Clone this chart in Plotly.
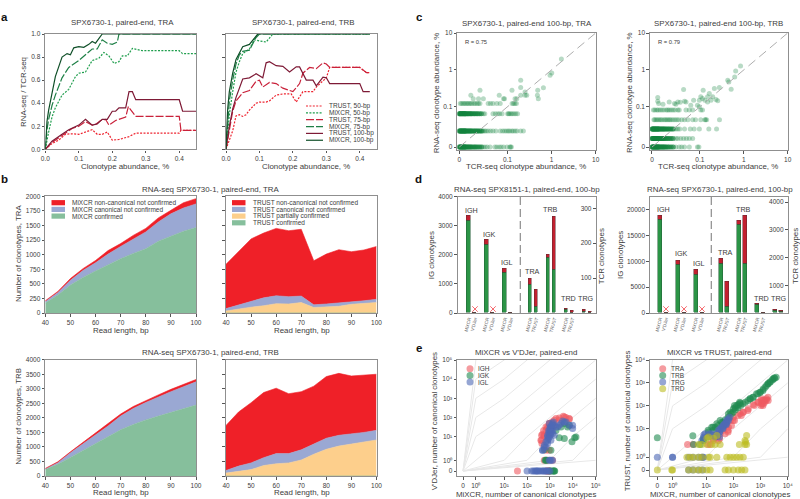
import math

import plotly.graph_objects as go

# Panel a: RNA-seq / TCR-seq against clonotype abundance
a_tra_trust50_x = [0, .02, .04, .06, .08, .10, .13, .14, .155, .17, .185, .20, .22, .25, .27, .40, .405, .45]
a_tra_trust50_y = [0, .05, .08, .13, .135, .13, .16, .17, .13, .13, .15, .08, .085, .11, .14, .14, .165, .165]
a_tra_mixcr50_x = [0, .005, .01, .02, .03, .05, .07, .09, .10, .12, .14, .16, .175, .19, .205, .22, .23, .245, .26, .29, .40, .41, .45]
a_tra_mixcr50_y = [0, .08, .15, .28, .36, .47, .52, .63, .66, .67, .77, .79, .84, .81, .745, .76, .81, .81, .875, .855, .855, .83, .83]
a_tra_trust75_x = [0, .02, .05, .08, .10, .12, .14, .15, .165, .18, .19, .21, .24, .248, .27, .40, .405, .45]
a_tra_trust75_y = [0, .06, .12, .18, .20, .24, .21, .215, .25, .26, .21, .25, .28, .37, .285, .285, .165, .165]
a_tra_mixcr75_x = [0, .005, .01, .02, .03, .05, .07, .10, .12, .14, .155, .17, .185, .20, .215, .22, .45]
a_tra_mixcr75_y = [0, .17, .26, .38, .47, .62, .71, .77, .82, .87, .87, .95, .92, .91, .93, 1, 1]
a_tra_trust100_x = [0, .02, .05, .07, .10, .12, .14, .155, .17, .185, .20, .21, .22, .24, .25, .26, .27, .40, .41, .45]
a_tra_trust100_y = [0, .07, .13, .17, .21, .26, .21, .22, .26, .26, .33, .33, .36, .36, .50, .50, .43, .43, .33, .33]
a_tra_mixcr100_x = [0, .005, .01, .02, .03, .05, .065, .075, .085, .10, .115, .13, .14, .15, .17, .45]
a_tra_mixcr100_y = [0, .24, .34, .50, .63, .80, .83, .82, .88, .89, .885, .91, .935, .92, 1, 1]

a_trb_trust50_x = [0, .01, .02, .03, .04, .05, .06, .07, .09, .10, .12, .13, .15, .17, .195, .21, .23, .26, .27, .30, .31, .40, .42, .43]
a_trb_trust50_y = [0, .08, .16, .29, .30, .285, .30, .34, .40, .41, .41, .42, .47, .48, .48, .41, .50, .50, .54, .62, .71, .71, .665, .665]
a_trb_mixcr50_x = [0, .005, .01, .02, .03, .04, .05, .07, .085, .10, .12, .14, .43]
a_trb_mixcr50_y = [0, .15, .30, .50, .67, .76, .83, .87, .95, .94, .93, 1, 1]
a_trb_trust75_x = [0, .01, .02, .03, .05, .07, .09, .10, .11, .13, .15, .17, .20, .22, .23, .25, .27, .29, .30, .31, .40, .42, .43]
a_trb_trust75_y = [0, .18, .33, .42, .49, .51, .59, .60, .54, .58, .57, .53, .50, .57, .66, .71, .70, .75, .74, .71, .71, .665, .665]
a_trb_mixcr75_x = [0, .005, .01, .02, .03, .04, .05, .07, .09, .10, .43]
a_trb_mixcr75_y = [0, .25, .42, .60, .74, .82, .85, .86, .97, 1, 1]
a_trb_trust100_x = [0, .01, .02, .03, .05, .07, .09, .11, .12, .13, .15, .17, .19, .21, .22, .23, .24, .26, .27, .29, .30, .31, .40, .41, .43]
a_trb_trust100_y = [0, .20, .35, .45, .61, .62, .655, .62, .75, .76, .725, .72, .67, .715, .715, .65, .60, .60, .55, .625, .62, .57, .57, .50, .50]
a_trb_mixcr100_x = [0, .005, .01, .02, .03, .05, .07, .085, .095, .43]
a_trb_mixcr100_y = [0, .35, .50, .66, .78, .89, .91, .96, 1, 1]

a_labels = ["TRUST, 50-bp", "MiXCR, 50-bp", "TRUST, 75-bp", "MiXCR, 75-bp", "TRUST, 100-bp", "MiXCR, 100-bp"]
a_colors = ["#ee2430", "#1f9e4d", "#c9213a", "#1f8047", "#7e1a36", "#0f4f28"]
a_dashes = ["2px,1.4px", "2px,1.4px", "8px,2px", "8px,2px", "solid", "solid"]

# Panel b: stacked clonotype counts per read length
read_length = [40, 45, 50, 55, 60, 65, 70, 75, 80, 85, 90, 95, 100]
b_tra_mixcr_confirmed = [170, 310, 480, 610, 720, 830, 930, 1020, 1100, 1230, 1320, 1400, 1465]
b_tra_mixcr_canonical = [25, 40, 80, 120, 140, 180, 210, 250, 290, 330, 380, 400, 405]
b_tra_mixcr_noncanon = [15, 20, 30, 30, 40, 60, 50, 60, 60, 70, 60, 90, 90]
b_tra_trust_confirmed = [1, 1, 1, 1, 1, 1, 1, 1, 1, 1, 1, 1, 1]
b_tra_trust_partial = [34, 69, 99, 124, 159, 154, 179, 94, 99, 114, 149, 164, 179]
b_tra_trust_canonical = [40, 65, 105, 135, 135, 125, 110, 45, 55, 55, 45, 45, 55]
b_tra_trust_noncanon = [760, 915, 1065, 1110, 1155, 1130, 1145, 755, 855, 915, 855, 870, 905]
b_trb_mixcr_confirmed = [230, 400, 640, 880, 1110, 1350, 1590, 1770, 1930, 2060, 2190, 2310, 2440]
b_trb_mixcr_canonical = [15, 60, 160, 220, 290, 370, 470, 550, 600, 660, 710, 760, 800]
b_trb_mixcr_noncanon = [15, 30, 30, 50, 70, 60, 70, 70, 70, 70, 80, 80, 80]
b_trb_trust_confirmed = [1, 1, 1, 1, 1, 1, 1, 1, 1, 1, 1, 1, 1]
b_trb_trust_partial = [99, 169, 219, 359, 419, 449, 549, 749, 919, 1029, 1099, 1169, 1239]
b_trb_trust_canonical = [90, 170, 230, 270, 350, 320, 350, 360, 380, 370, 340, 330, 330]
b_trb_trust_noncanon = [1550, 1860, 2070, 2240, 2250, 2060, 2000, 1980, 2120, 2130, 2000, 1960, 1930]

# Panel c: RNA-seq against TCR-seq abundance
c_tra_levels = [0, .04, .083, .123]
c_tra_rows = [
    [0, .003, .006, .008, .011, .014, .017, .019, .022, .025, .028, .031, .033, .036, .040, .043, .047, .050, .054, .058, .064, .074, .078, .083, .087, .092, .099, .113, .118, .123],
    [0, .002, .004, .006, .008, .010, .012, .014, .016, .018, .020, .022, .024, .026, .028, .030, .032, .034, .036, .038, .040, .042, .044, .046, .048, .050, .053, .056, .060, .065, .070, .076, .085, .09, .094, .098, .104, .112, .125, .135, .15, .165, .2, .23],
    [0, .002, .004, .007, .009, .011, .013, .016, .018, .02, .023, .025, .027, .03, .032, .035, .038, .041, .045, .05, .053, .07, .075, .08, .084, .089, .101, .106, .112, .121, .13, .142, .155, .17],
    [.002, .005, .008, .011, .014, .017, .02, .023, .026, .03, .033, .037, .04, .043, .06, .065, .07, .078, .085, .128, .137, .148, .16],
]
c_tra_dense = [0, .001, .002, .003, .004, .005, .006, .007, .008, .009, .01, .011, .012, .013, .014, .016, .018, .02, .022, .024, .026, .029, .032, .035, .038, .042, .046]
c_tra_top_x = [.024, .043, .029, .040, .05, .083, .092, .094, .127, .149, .163, .2, .2, .2, .251, .251, .274, .478, .486, .654, .502, .925, 1.01, 1.67]
c_tra_top_y = [.207, .282, .165, .165, .165, .207, .165, .165, .282, .165, .165, .525, .333, .207, .254, .207, .207, .207, .282, .326, .165, .72, .83, 1.98]
c_trb_levels = [0, .0215, .0446, .068, .092]
c_trb_rows = [
    [0, .002, .004, .006, .008, .010, .012, .014, .016, .018, .020, .022, .024, .026, .028, .030, .033, .036, .040, .045, .050, .057, .062, .068, .078, .095, .098],
    [0, .002, .004, .006, .008, .010, .012, .014, .016, .018, .020, .022, .024, .026, .028, .031, .034, .037, .040, .044, .050, .054, .06, .066, .072, .078, .085],
    [0, .002, .004, .006, .008, .010, .012, .014, .016, .018, .020, .022, .024, .026, .028, .030, .032, .034, .036, .038, .040, .043, .046, .050, .054, .058, .068, .08, .088, .099, .16, .24],
    [.004, .006, .009, .012, .015, .018, .021, .025, .028, .031, .034, .037, .040, .044, .048, .052, .056, .062, .068, .075, .085, .091, .105, .13, .135, .143, .28],
    [.003, .006, .010, .013, .017, .021, .025, .030, .033, .036, .040, .044, .048, .054, .057, .071, .078, .085, .105, .115],
]
c_trb_dense = [0, .001, .002, .003, .004, .005, .006, .007, .008, .009, .01, .011, .012, .013, .014, .015, .017, .019, .021, .023, .025, .027, .03, .033, .036, .04, .044]
c_trb_top_x = [.012, .012, .014, .023, .036, .047, .05, .054, .059, .068, .071, .066, .081, .087, .095, .099, .105, .119, .099, .150, .164, .179, .196, .214, .278, .432, .456, .516, .62, .654, .845, .115, .13, .15, .233, .255]
c_trb_top_y = [.179, .142, .123, .118, .136, .123, .118, .136, .134, .142, .136, .294, .11, .151, .11, .151, .186, .282, .1, .186, .229, .151, .186, .313, .333, .525, .474, .3, .646, .94, 1.28, .168, .151, .136, .158, .145]

# Panel d: clonotype counts per locus, IG on the left axis and TCR on the right
d_ig_pos = [0, 1, 3, 4, 6, 7]
d_tcr_pos = [10.2, 11.2, 13.2, 14.2, 16.2, 17.2, 19.2, 20.2]
d_ig_ticks = ["MiXCR", "V'DJer", "MiXCR", "V'DJer", "MiXCR", "V'DJer"]
d_tcr_ticks = ["MiXCR", "TRUST", "MiXCR", "TRUST", "MiXCR", "TRUST", "MiXCR", "TRUST"]
d1_ig_confirmed = [3180, 0, 2350, 0, 1390, 15]
d1_ig_other = [170, 0, 170, 0, 140, 5]
d1_tcr_confirmed = [82, 18, 159, 125, 10, 1, 5, 1]
d1_tcr_other = [17, 48, 9, 152, 3, 5, 4, 4]
d1_cross_pos = [1, 4]
d2_ig_confirmed = [18000, 0, 9400, 0, 7500, 0]
d2_ig_other = [800, 0, 800, 0, 800, 0]
d2_tcr_confirmed = [1769, 229, 3177, 1781, 300, 5, 70, 40]
d2_tcr_other = [205, 902, 156, 1721, 25, 20, 38, 50]
d2_cross_pos = [1, 4, 7]

# Panel e: canonical clonotypes per sample
e1_igh_x = [38, 700, 1000, 800, 900, 477, 403, 446, 565, 669, 790, 935, 1220, 1830, 3840, 7000, 5000, 2560, 1540, 935, 669, 565, 790, 1300,
            432, 432, 530, 669, 935, 1540, 2560, 4250, 7000, 790, 565]
e1_igh_y = [0, 0, 0, 0, 0, 13.2, 7, 5.1, 10.4, 21, 32, 48, 58, 87, 115, 84, 100, 71, 39, 2.65, 2.65, 1, 1, 1,
            11.8, 7, 21, 32, 48, 71, 94, 106, 87, 26, 11.8]
e1_igk_x = [9200, 13700, 12000, 4250, 2560, 1830, 3030, 4250, 5900, 7000, 1100, 565, 669, 620, 720, 1100, 1300, 935, 1540, 1450, 1620]
e1_igk_y = [6, 9.7, 9, 8.2, 9, 21, 32, 48, 32, 39, 2.65, 2.8, 1, 1, 1, 0, 0, 0, 0, 0, 0]
e1_igl_x = [477, 669, 790, 935, 1030, 1100, 1220, 1300, 1400, 1830, 2560, 3580, 5000, 9800, 790, 565, 875, 1030, 1100, 1300, 100, 160, 220, 270, 340, 477, 669, 935, 1300,
            477, 565, 669, 790, 935, 1100, 935, 790, 1100, 1300, 1540, 2160, 3030, 4250, 7000, 9800, 1540, 1000, 1200, 900, 1050, 1150, 850,
            190, 250, 300, 400, 520, 600, 720, 850, 1000, 1000, 1150]
e1_igl_y = [2.65, 3.66, 7, 9.7, 13.2, 21, 32, 48, 58, 32, 39, 65, 58, 39, 5.1, 4.3, 21, 32, 21, 14.3, 0, 0, 0, 0, 0, 0, 0, 1, 1,
            2.65, 3.66, 6, 9.7, 17.5, 32, 48, 11.8, 7, 21, 11.8, 32, 48, 58, 39, 26, 39, 26, 40, 15, 12, 18, 8,
            0, 0, 0, 0, 0, 0, 0, 0, 0, 1, 1]

e2_tra_x = [2.79, 14, 18.5, 24.6, 32.5, 43, 57, 76, 100, 175, 355, 537, 820, 1090, 1440, 1660, 1910, 1250, 1030, 232, 66, 28, 49.5,
            64, 110, 195, 340, 585, 1090, 1870, 1230, 1610, 1400, 1230, 1090, 805, 97, 148, 225, 85, 4.1, 11.7, 18, 31, 64]
e2_tra_y = [2.77, 2.77, 3.9, 5.1, 6.7, 8.9, 14, 23, 32, 45, 74, 114, 144, 171, 182, 202, 171, 122, 103, 53, 11.8, 3.9, 6.7,
            8.9, 23, 38, 63, 103, 202, 238, 103, 171, 144, 171, 122, 144, 23, 38, 53, 14, 2.77, 2.77, 4.5, 4.5, 7.7]
e2_trb_x = [0, 4, 4.2, 10.6, 16, 24.6, 37, 66, 100, 132, 175, 407, 712, 1250, 1910, 2750, 3170, 76, 115, 152, 18.5, 32.5, 2190, 1660, 943, 537, 6.6, 8.3, 12, 21.4,
            8.1, 11.7, 18, 27.5, 42, 64, 97, 148, 225, 345, 525, 805, 1230, 1870, 2840, 3760, 118, 185, 275, 420, 1000, 1480, 2300, 3300, 85, 50, 110, 170]
e2_trb_y = [4.85, 5.7, 2.77, 5.1, 11.8, 16.5, 19.5, 45, 74, 103, 130, 202, 333, 550, 910, 1350, 1660, 53, 82, 114, 8.9, 23, 1070, 770, 392, 238, 2.77, 3.9, 7.7, 11.8,
            4.5, 8.9, 11.8, 14, 19.5, 32, 53, 82, 122, 171, 238, 333, 464, 910, 1490, 1770, 67, 103, 144, 202, 392, 650, 1130, 1580, 45, 25, 103, 144]
e2_trg_x = [0, 1, 1, 7.4, 8.3, 8.3, 7.4, 9.3, 12, 16, 24.6, 21.4, 28, 32.5, 37, 43, 49.5, 57, 66, 31, 41, 54,
            27, 31, 36, 42, 48, 55, 64, 73, 42, 55, 8.6, 13.6, 18, 31, 3, 4, 5.9, 8, 3, 4, 5.9, 8]
e2_trg_y = [1, 1, 1, 1, 1, 5.1, 3.9, 6.7, 5.1, 6.7, 6.7, 5.1, 8.9, 10, 11.8, 14, 16.5, 19.5, 23, 7.7, 10, 14.9,
            5.85, 7.7, 10, 14, 16.5, 23, 27, 32, 11.8, 16.5, 6.2, 6.7, 5.85, 5.1, 1, 1, 1, 1, 0, 0, 0, 0]
e2_trd_x = [0, 1, .95, 2.99, 4.2, 5.9, 7.4, 10.6, 14, 49.5, 66, 100, 152, 202, 267, 2.67, 3.35, 4.2, 5.9, 7.4, 12, 14, 24.6, 57, 76, 100, 132, 175, 232, 5.9, 7.4, 10.6, 16, 21.4, 32.5, 166, 267, 307, 283, 267, 307, 12, 18.5, 24.6, 10.6]
e2_trd_y = [0, 0, 0, 0, 0, 0, 0, 0, 0, 0, 0, 0, 0, 0, 0, 1, 1, 1, 1, 1, 1, 1, 1, 1, 1, 1, 1, 1, 1, 2.77, 2.77, 2.77, 2.77, 2.77, 2.77, 2.77, 2.77, 2.77, 3.4, 3.9, 5.85, 5.1, 4.6, 5.85, 4.6]

FONT = "Liberation Sans"
TEXT = "#3c3c3c"
FRAME = "#8f8f8f"
SMALL = 6.5
LABEL = 7.9
RED, BLUE, GREEN, ORANGE = "#ef2028", "#9aa8d3", "#86bf9c", "#fdcf8c"

fig = go.Figure()
layout = {}
n_axes = 0


def fx(px):
    return px / 800


def fy(py):
    return 1 - py / 499


def symlog_c(v):
    # c axes: linear below 0.1, then log
    return v / .1 * 1.09 if v <= .1 else 1.09 + math.log10(v / .1)


def symlog_e(v):
    # e axes: linear below 1, wider first decade, then log
    if v <= 1:
        return v * .56
    return 1.80 + (math.log10(v) - 1) if v >= 10 else .56 + 1.24 * math.log10(v)


def axis_style(**kw):
    style = dict(showgrid=False, zeroline=False, showline=True, mirror=True, linecolor=FRAME, linewidth=1.4,
                 ticks="outside", ticklen=2.5, tickwidth=.8, tickcolor="#555555",
                 tickfont=dict(family=FONT, size=SMALL, color=TEXT), layer="above traces")
    style.update(kw)
    return style


def add_axes(left, right, top, bottom, xopts, yopts):
    # one pair of axes placed by its frame in page pixels, returns the trace refs
    global n_axes
    n_axes += 1
    xname = "xaxis" if n_axes == 1 else f"xaxis{n_axes}"
    yname = "yaxis" if n_axes == 1 else f"yaxis{n_axes}"
    xref = "x" if n_axes == 1 else f"x{n_axes}"
    yref = "y" if n_axes == 1 else f"y{n_axes}"
    layout[xname] = axis_style(domain=[fx(left), fx(right)], anchor=yref, **xopts)
    layout[yname] = axis_style(domain=[fy(bottom), fy(top)], anchor=xref, **yopts)
    return xref, yref


annotations = []
shapes = []


def text(px, py, s, size=LABEL, anchor="center", angle=0, bold=False, color=TEXT):
    annotations.append(dict(x=fx(px), y=fy(py), xref="paper", yref="paper", text=f"<b>{s}</b>" if bold else s,
                            showarrow=False, xanchor=anchor, yanchor="middle", textangle=angle, align="left",
                            font=dict(family=FONT, size=size, color=color)))


# a
a_xticks = dict(range=[0, .45], tickvals=[0, .1, .2, .3, .4], ticktext=["0.0", "0.1", "0.2", "0.3", "0.4"], layer="below traces")
a_yticks = [0, .2, .4, .6, .8, 1]
xa1, ya1 = add_axes(45.3, 196, 34, 149.3, a_xticks, dict(range=[0, 1], tickvals=a_yticks, ticktext=["0.0", "0.2", "0.4", "0.6", "0.8", "1.0"], layer="below traces"))
xa2, ya2 = add_axes(226, 376.5, 34, 149.3, a_xticks, dict(range=[0, 1], tickvals=a_yticks, showticklabels=False, layer="below traces"))
a_tra = [(a_tra_trust50_x, a_tra_trust50_y), (a_tra_mixcr50_x, a_tra_mixcr50_y), (a_tra_trust75_x, a_tra_trust75_y),
         (a_tra_mixcr75_x, a_tra_mixcr75_y), (a_tra_trust100_x, a_tra_trust100_y), (a_tra_mixcr100_x, a_tra_mixcr100_y)]
a_trb = [(a_trb_trust50_x, a_trb_trust50_y), (a_trb_mixcr50_x, a_trb_mixcr50_y), (a_trb_trust75_x, a_trb_trust75_y),
         (a_trb_mixcr75_x, a_trb_mixcr75_y), (a_trb_trust100_x, a_trb_trust100_y), (a_trb_mixcr100_x, a_trb_mixcr100_y)]
for lines, xr, yr in [(a_tra, xa1, ya1), (a_trb, xa2, ya2)]:
    for (xs, ys), name, col, dash in zip(lines, a_labels, a_colors, a_dashes):
        fig.add_trace(go.Scatter(x=xs, y=ys, mode="lines", name=name, xaxis=xr, yaxis=yr, cliponaxis=False,
                                 line=dict(color=col, width=1.2, dash=dash)))
for i, (name, col, dash) in enumerate(zip(a_labels, a_colors, a_dashes)):
    py = 106 + i * 6.85
    shapes.append(dict(type="line", xref="paper", yref="paper", x0=fx(306), x1=fx(323), y0=fy(py), y1=fy(py),
                       line=dict(color=col, width=1.2, dash=dash)))
    text(326.5, py, name, size=SMALL, anchor="left")
text(122.7, 22.7, "SPX6730-1, paired-end, TRA")
text(303, 22.7, "SPX6730-1, paired-end, TRB")
text(125, 166, "Clonotype abundance, %")
text(306, 166, "Clonotype abundance, %")
text(24, 92, "RNA-seq / TCR-seq", angle=-90)

# b
b_x = dict(range=[40, 100], tickvals=[40, 50, 60, 70, 80, 90, 100])
b_panels = [
    (45.3, 196, 196.3, 313, 2000, [0, 250, 500, 750, 1000, 1250, 1500, 1750, 2000], True,
     [b_tra_mixcr_confirmed, b_tra_mixcr_canonical, b_tra_mixcr_noncanon], [GREEN, BLUE, RED]),
    (226, 376.5, 196.3, 313, 2000, [0, 250, 500, 750, 1000, 1250, 1500, 1750, 2000], False,
     [b_tra_trust_confirmed, b_tra_trust_partial, b_tra_trust_canonical, b_tra_trust_noncanon], [GREEN, ORANGE, BLUE, RED]),
    (45.3, 196, 359.7, 476, 4000, [0, 500, 1000, 1500, 2000, 2500, 3000, 3500, 4000], True,
     [b_trb_mixcr_confirmed, b_trb_mixcr_canonical, b_trb_mixcr_noncanon], [GREEN, BLUE, RED]),
    (226, 376.5, 359.7, 476, 4000, [0, 500, 1000, 1500, 2000, 2500, 3000, 3500, 4000], False,
     [b_trb_trust_confirmed, b_trb_trust_partial, b_trb_trust_canonical, b_trb_trust_noncanon], [GREEN, ORANGE, BLUE, RED]),
]
for k, (l, r, t, b, top, ticks, labelled, series, cols) in enumerate(b_panels):
    xr, yr = add_axes(l, r, t, b, b_x, dict(range=[0, top], tickvals=ticks, showticklabels=labelled))
    for vals, col in zip(series, cols):
        fig.add_trace(go.Scatter(x=read_length, y=vals, mode="lines", xaxis=xr, yaxis=yr, stackgroup=f"b{k}",
                                 line=dict(color=col, width=.6), fillcolor=col))
for labels, cols, x_sw in [(["MiXCR non-canonical not confirmed", "MiXCR canonical not confirmed", "MiXCR confirmed"], [RED, BLUE, GREEN], 51.5),
                           (["TRUST non-canonical not confirmed", "TRUST canonical not confirmed", "TRUST partially confirmed", "TRUST confirmed"], [RED, BLUE, ORANGE, GREEN], 232)]:
    for i, (name, col) in enumerate(zip(labels, cols)):
        py = 202.7 + i * 6.7
        shapes.append(dict(type="rect", xref="paper", yref="paper", x0=fx(x_sw), x1=fx(x_sw + 13.5), y0=fy(py + 2.6), y1=fy(py - 2.6),
                           line=dict(width=0), fillcolor=col))
        text(x_sw + 18.5, py, name, size=SMALL, anchor="left")
text(210.8, 189, "RNA-seq SPX6730-1, paired-end, TRA")
text(210, 352, "RNA-seq SPX6730-1, paired-end, TRB")
text(121, 330.5, "Read length, bp")
text(301.7, 330.5, "Read length, bp")
text(121, 492.5, "Read length, bp")
text(301.7, 492.5, "Read length, bp")
text(19, 253, "Number of clonotypes, TRA", angle=-90)
text(19, 416.7, "Number of clonotypes, TRB", angle=-90)

# c
c_tick_vals = [0, .1, 1, 10]
c_ticks = dict(tickvals=[symlog_c(v) for v in c_tick_vals], ticktext=["0", "0.1", "1", "10"])
for title, l, r, lev, rows, dense, top_x, top_y, rlabel, cx, ylab in [
    ("SPX6730-1, paired-end 100-bp, TRA", 457.3, 595.7, c_tra_levels, c_tra_rows, c_tra_dense, c_tra_top_x, c_tra_top_y, "R = 0.75", 526.8, 437.3),
    ("SPX6730-1, paired-end 100-bp, TRB", 650, 787.7, c_trb_levels, c_trb_rows, c_trb_dense, c_trb_top_x, c_trb_top_y, "R = 0.79", 718.7, 630),
]:
    xr, yr = add_axes(l, r, 33, 150, dict(range=[-.045, 3.09], **c_ticks), dict(range=[-.08, 3.09], **c_ticks))
    xs = [symlog_c(v) for row in rows for v in row] + [symlog_c(v) for v in top_x]
    ys = [symlog_c(y) for y, row in zip(lev, rows) for _ in row] + [symlog_c(v) for v in top_y]
    # the low rows are packed with overlapping points near zero
    for y in lev[:3]:
        xs += [symlog_c(v) for v in dense] * 2
        ys += [symlog_c(y)] * (2 * len(dense))
    fig.add_trace(go.Scatter(x=xs, y=ys, mode="markers", xaxis=xr, yaxis=yr,
                             marker=dict(color="#13863f", size=5, opacity=.3, line=dict(width=0))))
    fig.add_trace(go.Scatter(x=[0, 3.09], y=[0, 3.09], mode="lines", xaxis=xr, yaxis=yr,
                             line=dict(color="#adadad", width=1, dash="9px,5px")))
    text(l + 5.7, 41.7, rlabel, size=5.8, anchor="left")
    text(cx, 23.3, title)
    text(cx - 1, 166.7, "TCR-seq clonotype abundance, %")
    text(ylab, 93, "RNA-seq clonotype abundance, %", angle=-90)

# d
for title, l, r, ig_top, ig_ticks, ig_text, tcr_top, tcr_ticks, ig_c, ig_o, tcr_c, tcr_o, crosses, cross_y, x_off, labels, cx, ig_lab, tcr_lab in [
    ("RNA-seq SPX8151-1, paired-end, 100-bp", 457.7, 595.7, 4000, [0, 1000, 2000, 3000, 4000], ["0", "1000", "2000", "3000", "4000"],
     333, [100, 200, 300], d1_ig_confirmed, d1_ig_other, d1_tcr_confirmed, d1_tcr_other, d1_cross_pos, 137, 469,
     [("IGH", 471.7, 210), ("IGK", 489.7, 234), ("IGL", 507.3, 262), ("TRA", 532.7, 271.3), ("TRB", 550.7, 209.3), ("TRD", 568.3, 298.7), ("TRG", 586, 298.7)],
     527, 431, 602.3),
    ("RNA-seq SPX6730-1, paired-end, 100-bp", 650, 787.7, 22516, [0, 5000, 10000, 15000, 20000], ["0", "5000", "10000", "15000", "20000"],
     4198, [1000, 2000, 3000, 4000], d2_ig_confirmed, d2_ig_other, d2_tcr_confirmed, d2_tcr_other, d2_cross_pos, 770, 660,
     [("IGH", 663.7, 209.3), ("IGK", 681.3, 254), ("IGL", 699.3, 263.7), ("TRA", 725.7, 252.3), ("TRB", 743.3, 209.3), ("TRD", 761.3, 298), ("TRG", 779, 298.7)],
     720.3, 620.7, 796),
]:
    x_range = [(l - x_off) / 6, (r - x_off) / 6]
    xr, yr = add_axes(l, r, 196.7, 313,
                      dict(range=x_range, tickvals=d_ig_pos + d_tcr_pos, ticktext=d_ig_ticks + d_tcr_ticks, tickangle=-75, ticks="",
                           tickfont=dict(family=FONT, size=4.6, color="#5c5c5c")),
                      dict(range=[0, ig_top], tickvals=ig_ticks, ticktext=ig_text))
    n_y2 = f"yaxis{n_axes + 100}"
    yr2 = f"y{n_axes + 100}"
    layout[n_y2] = axis_style(domain=[fy(313), fy(196.7)], anchor=xr, overlaying=yr, side="right", range=[0, tcr_top],
                              tickvals=tcr_ticks, ticks="inside", ticklabelposition="inside", showline=False, mirror=False)
    fig.add_trace(go.Bar(x=d_ig_pos, y=ig_c, xaxis=xr, yaxis=yr, width=.62, marker=dict(color="#2b9446", line=dict(width=.5, color="#205c33"))))
    fig.add_trace(go.Bar(x=d_ig_pos, y=ig_o, xaxis=xr, yaxis=yr, width=.62, marker=dict(color="#c2202f", line=dict(width=.5, color="#5e2a30"))))
    fig.add_trace(go.Bar(x=d_tcr_pos, y=tcr_c, xaxis=xr, yaxis=yr2, width=.62, marker=dict(color="#2b9446", line=dict(width=.5, color="#205c33"))))
    fig.add_trace(go.Bar(x=d_tcr_pos, y=tcr_o, xaxis=xr, yaxis=yr2, width=.62, marker=dict(color="#c2202f", line=dict(width=.5, color="#5e2a30"))))
    fig.add_trace(go.Scatter(x=crosses, y=[cross_y] * len(crosses), mode="markers", xaxis=xr, yaxis=yr,
                             marker=dict(symbol="x-thin", size=5.5, color="#f56b70", line=dict(width=1, color="#f56b70"))))
    shapes.append(dict(type="line", xref=xr, yref=f"{yr} domain", x0=8.55, x1=8.55, y0=0, y1=1,
                       line=dict(color="#8c8c8c", width=1.2, dash="8px,4px")))
    for name, px, py in labels:
        text(px, py, name, size=7.2)
    text(cx, 189.3, title)
    text(ig_lab, 255.3, "IG clonotypes", angle=-90)
    text(tcr_lab, 256, "TCR clonotypes", angle=-90)

# e
e_exp_text = ["0", "10⁰", "10¹", "10²", "10³", "10⁴", "10⁵"]


def fold_line(k, maxexp):
    # guide for y = 10^k * x, straight from the origin to the first point on a decade
    pts = [(0, 0)]
    for i in range(0, maxexp + 1):
        x_exp, y_exp = (i, i + k) if k >= 0 else (i - k, i)
        pts.append((10 ** x_exp, 10 ** y_exp))
    return [symlog_e(p[0]) for p in pts], [symlog_e(p[1]) for p in pts]


for title, l, r, maxexp, xlo, series, cx, ylab in [
    ("MiXCR vs V'DJer, paired-end", 457.3, 595.7, 5, -.25,
     [("IGH", e1_igh_x, e1_igh_y, "#ef5a60"), ("IGK", e1_igk_x, e1_igk_y, "#1f8a50"), ("IGL", e1_igl_x, e1_igl_y, "#4f69b5")], 526, 434.3),
    ("MiXCR vs TRUST, paired-end", 650, 787.7, 4, -.27,
     [("TRA", e2_tra_x, e2_tra_y, "#ef5a60"), ("TRB", e2_trb_x, e2_trb_y, "#1f8a50"), ("TRG", e2_trg_x, e2_trg_y, "#4f69b5"), ("TRD", e2_trd_x, e2_trd_y, "#bcbd22")], 719.5, 627.3),
]:
    e_vals = [0] + [10 ** i for i in range(maxexp + 1)]
    e_ticks = dict(tickvals=[symlog_e(v) for v in e_vals], ticktext=e_exp_text[:maxexp + 2])
    top = symlog_e(10 ** maxexp)
    xr, yr = add_axes(l, r, 360, 476, dict(range=[xlo, top], **e_ticks), dict(range=[-.26, top], **e_ticks))
    for k in range(-maxexp, maxexp + 1):
        gx, gy = fold_line(k, maxexp)
        fig.add_trace(go.Scatter(x=gx, y=gy, mode="lines", xaxis=xr, yaxis=yr, line=dict(color="#e8e8e8", width=1)))
    for i, (name, sx, sy, col) in enumerate(series):
        fig.add_trace(go.Scatter(x=[symlog_e(v) for v in sx], y=[symlog_e(v) for v in sy], mode="markers", xaxis=xr, yaxis=yr,
                                 marker=dict(color=col, size=7, opacity=.6, line=dict(width=0))))
        py = 368.7 + i * 6.7
        shapes.append(dict(type="circle", xref="paper", yref="paper", x0=fx(l + 9.2), x1=fx(l + 16.2), y0=fy(py + 3.5), y1=fy(py - 3.5),
                           fillcolor=col, opacity=.6, line=dict(width=0)))
        text(l + 18.7, py, name, size=SMALL, anchor="left")
    text(cx, 352.7, title)
    text(cx, 494.3, "MiXCR, number of canonical clonotypes")
    text(ylab, 421, "V'DJer, number of canonical clonotypes" if maxexp == 5 else "TRUST, number of canonical clonotypes", angle=-90)

# panel letters
for letter, px, py in [("a", 4.3, 16.7), ("b", 4, 179), ("c", 419, 16.7), ("d", 418, 179), ("e", 419, 347.7)]:
    text(px, py, letter, size=11.5, bold=True, color="#111111")

fig.update_layout(width=800, height=499, margin=dict(l=0, r=0, t=0, b=0, autoexpand=False), autosize=False, showlegend=False,
                  paper_bgcolor="white", plot_bgcolor="white", barmode="stack", bargap=0,
                  annotations=annotations, shapes=shapes, **layout)

fig.write_html("out.html", config=dict(displayModeBar=False), post_script="document.body.style.margin='0';")
